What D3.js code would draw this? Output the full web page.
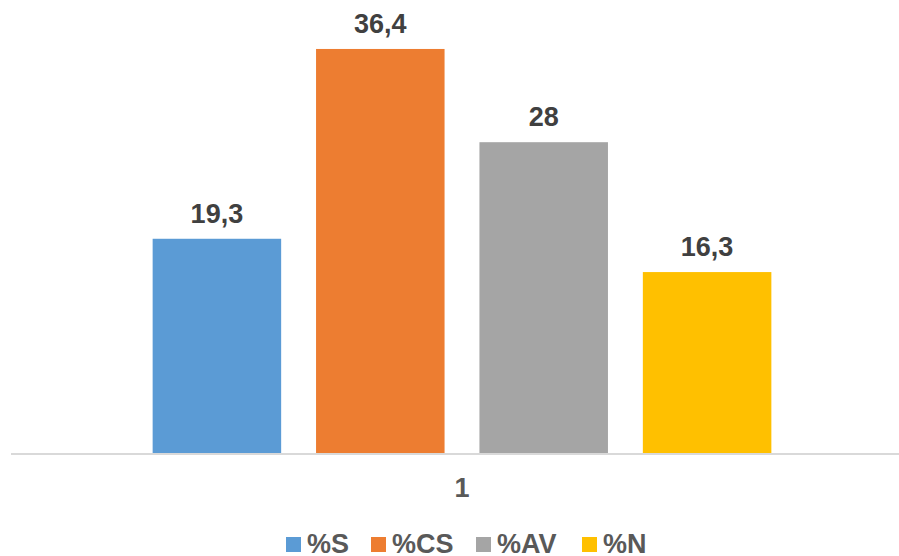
<!DOCTYPE html>
<html>
<head>
<meta charset="utf-8">
<script src="https://cdn.jsdelivr.net/npm/d3@7"></script>
<style>
  body { margin: 0; background: #fff; }
  svg { display: block; font-family: Arial, "Liberation Sans", sans-serif; }
</style>
</head>
<body>
<svg id="chart" width="899" height="556"></svg>
<script>
const categories = ["1"];
const seriesNames = ["%S", "%CS", "%AV", "%N"];
const seriesValues = [19.3, 36.4, 28, 16.3];
const seriesColors = ["#5b9bd5", "#ed7d31", "#a5a5a5", "#ffc000"];

const width = 899;
const height = 556;
const plotLeft = 11;
const plotRight = 913;
const baseY = 453;
const topY = 9;

const svg = d3.select("#chart");

const fmt = (x) => d3.format("")(x).replace(".", ",");

const xOuter = d3.scaleBand()
  .domain(categories)
  .range([plotLeft, plotRight])
  .paddingInner(0)
  .paddingOuter(0.19);

const xInner = d3.scaleBand()
  .domain(seriesNames)
  .range([0, xOuter.bandwidth()])
  .paddingInner(0.2135)
  .paddingOuter(0.1068);

const y = d3.scaleLinear()
  .domain([0, 40])
  .range([baseY, topY]);

const rows = seriesNames.map((name, i) => ({
  name: name,
  value: seriesValues[i],
  color: seriesColors[i],
  cat: categories[0]
}));

const groups = svg.selectAll(".cat-group")
  .data(categories)
  .enter()
  .append("g")
  .classed("cat-group", true)
  .attr("transform", (c) => "translate(" + xOuter(c) + ",0)");

groups.selectAll(".bar")
  .data((c) => rows.filter((r) => r.cat === c))
  .enter()
  .append("rect")
  .classed("bar", true)
  .attr("x", (d) => xInner(d.name))
  .attr("y", (d) => y(d.value))
  .attr("width", xInner.bandwidth())
  .attr("height", (d) => y(0) - y(d.value))
  .attr("fill", (d) => d.color);

groups.selectAll(".bar-label")
  .data((c) => rows.filter((r) => r.cat === c))
  .enter()
  .append("text")
  .classed("bar-label", true)
  .attr("x", (d) => xInner(d.name) + xInner.bandwidth() / 2)
  .attr("y", (d) => y(d.value) - 16)
  .attr("text-anchor", "middle")
  .attr("font-size", "27px")
  .attr("font-weight", "bold")
  .attr("fill", "#404040")
  .text((d) => fmt(d.value));

// axis line
svg.append("line")
  .attr("x1", plotLeft)
  .attr("x2", plotRight)
  .attr("y1", baseY + 1)
  .attr("y2", baseY + 1)
  .attr("stroke", "#d9d9d9")
  .attr("stroke-width", 2);

// category labels
svg.selectAll(".cat-label")
  .data(categories)
  .enter()
  .append("text")
  .classed("cat-label", true)
  .attr("x", (c) => xOuter(c) + xOuter.bandwidth() / 2)
  .attr("y", 497)
  .attr("text-anchor", "middle")
  .attr("font-size", "27px")
  .attr("font-weight", "bold")
  .attr("fill", "#595959")
  .text((c) => c);

// legend
const legendX = [286, 371, 476, 582];
const legend = svg.selectAll(".legend-item")
  .data(rows)
  .enter()
  .append("g")
  .classed("legend-item", true)
  .attr("transform", (d, i) => "translate(" + legendX[i] + ",537)");

legend.append("rect")
  .attr("width", 15)
  .attr("height", 15)
  .attr("fill", (d) => d.color);

legend.append("text")
  .attr("x", 21)
  .attr("y", 16)
  .attr("font-size", "27px")
  .attr("font-weight", "bold")
  .attr("fill", "#595959")
  .text((d) => d.name);
</script>
</body>
</html>
